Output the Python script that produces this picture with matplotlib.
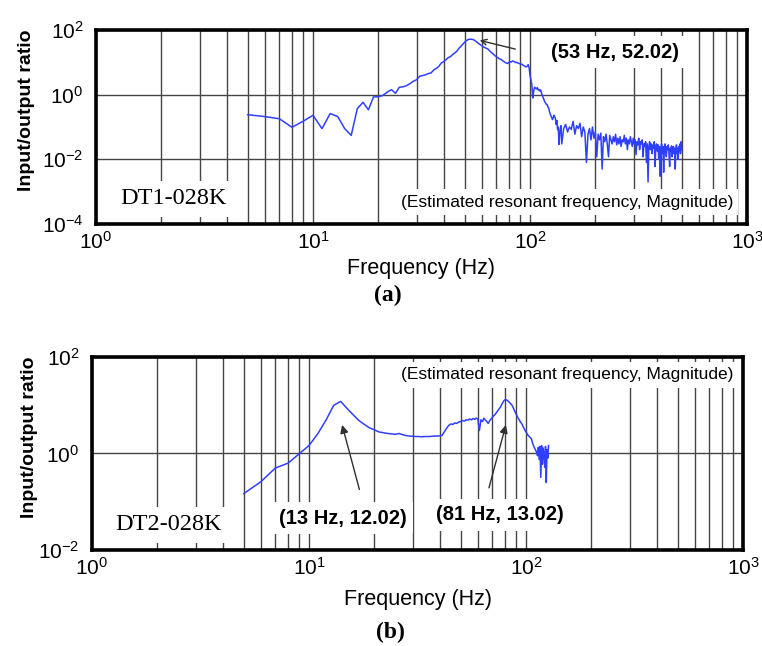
import numpy as np
import matplotlib
matplotlib.use("Agg")
import matplotlib.pyplot as plt
from matplotlib.ticker import LogLocator, NullFormatter

plt.rcParams['font.family'] = ['Liberation Sans', 'DejaVu Sans']
plt.rcParams['mathtext.default'] = 'regular'

# (a) DT1-028K, 1 Hz steps from 5 to 139 Hz, then 3 Hz steps up to 500 Hz
freq_a1 = np.arange(5, 140)
ratio_a1 = [
    0.24, 0.21, 0.18, 0.098, 0.15, 0.23, 0.089, 0.26, 0.21, 0.089,       # 5-14
    0.055, 0.37, 0.58, 0.34, 0.85, 0.86, 0.95, 1.2, 1.43, 1.1,           # 15-24
    1.7, 1.75, 1.9, 2.2, 2.6, 2.9, 3.7, 3.9, 4.1, 4.5,                   # 25-34
    4.7, 5.8, 6.5, 7.5, 9.5, 10.5, 12, 14, 15, 17.5,                     # 35-44
    19.4, 22, 27, 31, 36, 42, 47, 51, 52.02, 51.5,                       # 45-54
    50, 46, 42, 38, 35, 32, 30, 28.5, 27, 25.8,                          # 55-64
    23, 21, 19, 17.5, 16, 15, 14, 13, 12.5, 12,                          # 65-74
    11, 10.5, 9.8, 9.5, 9.2, 10, 10.5, 10.2, 11, 10.7,                   # 75-84
    10.3, 9.8, 10, 9.5, 9.2, 9, 8.9, 8.5, 8.2, 7.8,                      # 85-94
    7.5, 7.2, 7.5, 8.5, 7.0, 4.0, 2.9, 2.0, 0.79, 1.3,                   # 95-104
    1.7, 1.6, 1.5, 1.65, 1.4, 1.45, 1.3, 1.4, 1.1, 0.95,                 # 105-114
    0.8, 0.7, 0.6, 0.55, 0.5, 0.49, 0.42, 0.38, 0.3, 0.25,               # 115-124
    0.22, 0.19, 0.17, 0.2, 0.23, 0.21, 0.18, 0.12, 0.16, 0.083,          # 125-134
    0.1, 0.029, 0.06, 0.09, 0.11,                                        # 135-139
]
freq_a2 = np.arange(140, 501, 3)
ratio_a2 = [
    0.03, 0.09, 0.12, 0.07, 0.1, 0.085, 0.15, 0.06, 0.11, 0.09,          # 140-167
    0.13, 0.05, 0.1, 0.07, 0.008, 0.06, 0.09, 0.04, 0.1, 0.045,          # 170-197
    0.07, 0.012, 0.06, 0.04, 0.065, 0.005, 0.05, 0.035, 0.06, 0.03,      # 200-227
    0.012, 0.055, 0.04, 0.03, 0.05, 0.035, 0.06, 0.028, 0.045, 0.03,     # 230-257
    0.05, 0.025, 0.04, 0.035, 0.055, 0.03, 0.045, 0.02, 0.04, 0.03,      # 260-287
    0.05, 0.035, 0.025, 0.045, 0.03, 0.04, 0.014, 0.035, 0.028, 0.045,   # 290-317
    0.02, 0.035, 0.03, 0.04, 0.012, 0.03, 0.025, 0.035, 0.008, 0.03,     # 320-347
    0.002, 0.025, 0.035, 0.02, 0.03, 0.015, 0.028, 0.022, 0.035, 0.006,  # 350-377
    0.025, 0.03, 0.018, 0.028, 0.01, 0.025, 0.003, 0.02, 0.03, 0.016,    # 380-407
    0.025, 0.004, 0.022, 0.03, 0.018, 0.012, 0.025, 0.02, 0.028, 0.015,  # 410-437
    0.006, 0.022, 0.018, 0.026, 0.012, 0.02, 0.025, 0.015, 0.022, 0.005, # 440-467
    0.02, 0.028, 0.015, 0.022, 0.01, 0.025, 0.018, 0.03, 0.015, 0.035,   # 470-497
    0.02,                                                                # 500
]

# (b) DT2-028K, 1 Hz steps from 5 to 127 Hz
freq_b = np.arange(5, 128)
ratio_b = [
    0.147, 0.26, 0.5, 0.63, 0.98, 1.46, 2.6, 5.0, 10.0, 12.02,           # 5-14
    8.5, 6.3, 4.8, 4.0, 3.4, 3.1, 2.8, 2.7, 2.6, 2.55,                   # 15-24
    2.5, 2.6, 2.45, 2.35, 2.3, 2.28, 2.25, 2.25, 2.22, 2.25,             # 25-34
    2.25, 2.25, 2.28, 2.3, 2.3, 2.32, 2.36, 2.8, 3.3, 3.8,               # 35-44
    4.1, 4.0, 4.3, 4.2, 4.5, 4.6, 4.8, 4.7, 5.0, 4.9,                    # 45-54
    5.2, 5.0, 5.3, 5.1, 5.4, 5.2, 3.0, 5.0, 4.6, 5.4,                    # 55-64
    4.9, 4.6, 4.2, 4.8, 5.2, 5.6, 6.1, 6.4, 7.0, 7.6,                    # 65-74
    8.3, 9.0, 10.0, 11.2, 12.3, 13.0, 13.02, 12.6, 12.0, 11.4,           # 75-84
    10.7, 10.2, 9.2, 8.2, 7.3, 6.6, 6.0, 5.4, 5.0, 4.6,                  # 85-94
    4.3, 4.0, 3.6, 3.3, 3.0, 2.8, 2.6, 2.4, 2.3, 2.2,                    # 95-104
    2.1, 2.0, 1.7, 1.5, 1.35, 1.25, 1.15, 1.05, 0.9, 1.35,               # 105-114
    0.75, 1.4, 0.32, 1.46, 0.6, 1.3, 0.9, 0.52, 1.4, 0.25,               # 115-124
    1.2, 0.8, 1.46,                                                      # 125-127
]

W, H = 762, 646
fig = plt.figure(figsize=(W / 100, H / 100), dpi=100)


def fx(px):
    return px / W


def fy(py):
    return 1 - py / H


def style_axes(ax, ymin, ymax, yticks):
    ax.set_xscale('log')
    ax.set_yscale('log')
    ax.set_xlim(1, 1000)
    ax.set_ylim(ymin, ymax)
    ax.set_xticks([1, 10, 100, 1000])
    ax.set_yticks(yticks)
    ax.xaxis.set_minor_locator(LogLocator(base=10, subs=np.arange(2, 10)))
    ax.xaxis.set_minor_formatter(NullFormatter())
    ax.yaxis.set_minor_locator(plt.NullLocator())
    ax.grid(True, which='both', axis='x', color='#454545', lw=1.0)
    ax.grid(True, which='major', axis='y', color='#454545', lw=1.0)
    ax.tick_params(which='both', length=0, labelsize=15)
    ax.tick_params(axis='x', pad=5)
    ax.tick_params(axis='y', pad=9)
    for sp in ax.spines.values():
        sp.set_linewidth(2.6)


white = dict(facecolor='white', edgecolor='none', boxstyle='square,pad=0.3')

# ---- (a)
ax1 = fig.add_axes([fx(96), fy(224), fx(747 - 96), (224 - 30) / H])
ax1.plot(np.concatenate([freq_a1, freq_a2]), np.concatenate([ratio_a1, ratio_a2]),
         color='#2f3fff', lw=1.1)
style_axes(ax1, 1e-4, 1e2, [1e-4, 1e-2, 1, 1e2])
ax1.annotate('', xy=(57, 50), xytext=(88, 24.5),
             arrowprops=dict(arrowstyle='->', color='#303030', lw=1.0))

fig.text(fx(120), fy(199), 'DT1-028K', family='Liberation Serif', fontsize=17.5,
         va='center', ha='left', bbox=white)
fig.text(fx(615), fy(52), '(53 Hz, 52.02)', fontsize=14.5, fontweight='bold',
         ha='center', va='center', bbox=white)
fig.text(fx(567), fy(202), '(Estimated resonant frequency, Magnitude)', fontsize=12.5,
         ha='center', va='center', bbox=white)
fig.text(fx(421), fy(269), 'Frequency (Hz)', fontsize=15.5, ha='center', va='center')
fig.text(fx(27), fy(110), 'Input/output ratio', fontsize=14, fontweight='bold',
         rotation=90, ha='center', va='center')
fig.text(fx(388), fy(295), '(a)', family='Liberation Serif', fontsize=17,
         fontweight='bold', ha='center', va='center')

# ---- (b)
ax2 = fig.add_axes([fx(92), fy(550), fx(743 - 92), (550 - 357) / H])
ax2.plot(freq_b, ratio_b, color='#2f3fff', lw=1.1)
style_axes(ax2, 1e-2, 1e2, [1e-2, 1, 1e2])
ax2.annotate('', xy=(14.1, 4.45), xytext=(17.2, 0.158),
             arrowprops=dict(arrowstyle='-|>', color='#303030', lw=1.0, mutation_scale=12))
ax2.annotate('', xy=(81.4, 4.45), xytext=(67, 0.171),
             arrowprops=dict(arrowstyle='-|>', color='#303030', lw=1.0, mutation_scale=12))

fig.text(fx(115), fy(525), 'DT2-028K', family='Liberation Serif', fontsize=17.5,
         va='center', ha='left', bbox=white)
fig.text(fx(343), fy(518), '(13 Hz, 12.02)', fontsize=14.5, fontweight='bold',
         ha='center', va='center', bbox=white)
fig.text(fx(500), fy(515), '(81 Hz, 13.02)', fontsize=14.5, fontweight='bold',
         ha='center', va='center', bbox=white)
fig.text(fx(567), fy(375), '(Estimated resonant frequency, Magnitude)', fontsize=12.5,
         ha='center', va='center', bbox=white)
fig.text(fx(418), fy(599), 'Frequency (Hz)', fontsize=15.5, ha='center', va='center')
fig.text(fx(30), fy(437), 'Input/output ratio', fontsize=14, fontweight='bold',
         rotation=90, ha='center', va='center')
fig.text(fx(390), fy(632), '(b)', family='Liberation Serif', fontsize=17,
         fontweight='bold', ha='center', va='center')

fig.savefig('out.png', dpi=100)
